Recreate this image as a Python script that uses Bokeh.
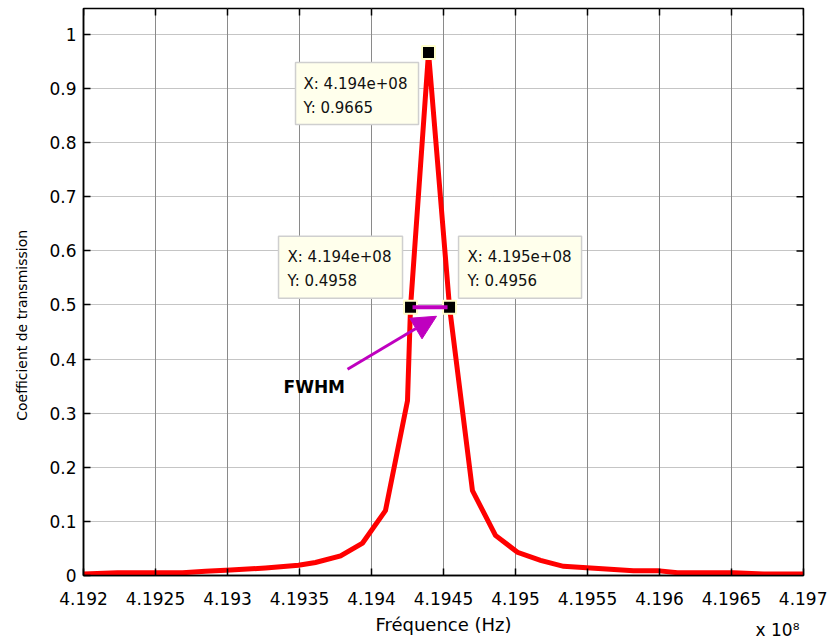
from bokeh.plotting import figure
from bokeh.models import Range1d, LinearAxis, FixedTicker, Label, Arrow, NormalHead
from bokeh.embed import file_html
from bokeh.resources import INLINE
from bokeh.core.properties import value

# ---------------- data (frequency in units of 1e8 Hz) ----------------
freq = [4.19200, 4.192236, 4.192688, 4.192847, 4.193021, 4.193264, 4.193493, 4.193611,
        4.193785, 4.193938, 4.194097, 4.194250, 4.194271, 4.194396, 4.194542, 4.194701,
        4.194861, 4.195014, 4.195174, 4.195333, 4.195819, 4.195986, 4.196125, 4.196514,
        4.196722, 4.197000]
trans = [0.003, 0.005, 0.005, 0.008, 0.010, 0.014, 0.019, 0.024,
         0.036, 0.060, 0.120, 0.323, 0.4958, 0.9665, 0.4956, 0.157,
         0.074, 0.043, 0.028, 0.017, 0.009, 0.009, 0.005, 0.005,
         0.003, 0.003]

tip_index = [12, 13, 14]          # data tips: left half point, peak, right half point
xtick_values = [4.192, 4.1925, 4.193, 4.1935, 4.194, 4.1945, 4.195, 4.1955, 4.196, 4.1965, 4.197]
xtick_labels = ["4.192", "4.1925", "4.193", "4.1935", "4.194", "4.1945", "4.195", "4.1955", "4.196", "4.1965", "4.197"]
ytick_values = [0, 0.1, 0.2, 0.3, 0.4, 0.5, 0.6, 0.7, 0.8, 0.9, 1]
ytick_labels = ["0", "0.1", "0.2", "0.3", "0.4", "0.5", "0.6", "0.7", "0.8", "0.9", "1"]
exponent_label = "x 10\u2078"

X0, X1 = 4.192, 4.197
Y0, Y1 = 0.0, 1.048
FW, FH = 720, 567
dxpp = (X1 - X0) / FW     # data units per pixel
dypp = (Y1 - Y0) / FH

FONT = "DejaVu Sans"
MAG = "#bf00bf"
NB = "\u00a0"

p = figure(width=827, height=642, x_range=Range1d(X0, X1), y_range=Range1d(Y0, Y1),
           output_backend="svg", toolbar_location=None,
           min_border_left=83, min_border_right=24, min_border_top=8, min_border_bottom=67)
p.background_fill_color = "white"
p.border_fill_color = "white"
p.outline_line_color = "black"
p.outline_line_width = 1.5

xt = FixedTicker(ticks=xtick_values)
yt = FixedTicker(ticks=ytick_values)

for ax in (p.xaxis[0], p.yaxis[0]):
    ax.axis_line_color = "black"
    ax.axis_line_width = 1.5
    ax.major_tick_in = 7
    ax.major_tick_out = 0
    ax.major_tick_line_color = "black"
    ax.major_tick_line_width = 1.5
    ax.minor_tick_line_color = None
    ax.major_label_text_font = FONT
    ax.major_label_text_font_size = "17px"
    ax.major_label_text_color = "black"
    ax.axis_label_text_font = FONT
    ax.axis_label_text_font_style = "normal"
    ax.axis_label_text_color = "black"

p.xaxis[0].ticker = xt
p.xaxis[0].major_label_overrides = dict(zip(xtick_values, xtick_labels))
p.xaxis[0].major_label_standoff = 16
p.xaxis[0].axis_label = "Fréquence (Hz)"
p.xaxis[0].axis_label_text_font_size = "18px"
p.xaxis[0].axis_label_standoff = 6

p.yaxis[0].ticker = yt
p.yaxis[0].major_label_overrides = dict(zip(ytick_values, ytick_labels))
p.yaxis[0].major_label_standoff = 7
p.yaxis[0].axis_label = "Coefficient de transmission" + NB * 15
p.yaxis[0].axis_label_text_font_size = "14px"
p.yaxis[0].axis_label_standoff = 16

# exponent "x 10^8": a single tick label on a bare axis below the main x axis
x_exp = X1 - 26 * dxpp
exp_axis = LinearAxis(ticker=FixedTicker(ticks=[x_exp]), major_tick_in=0, major_tick_out=0,
                      major_tick_line_color=None, minor_tick_line_color=None, axis_line_color=None,
                      major_label_overrides={x_exp: exponent_label},
                      major_label_text_font=FONT, major_label_text_font_size="17px",
                      major_label_text_color="black", major_label_standoff=-18)
p.add_layout(exp_axis, "below")

p.xgrid.grid_line_color = "#8a8a8a"
p.xgrid.grid_line_width = 1
p.ygrid.grid_line_color = "#8a8a8a"
p.ygrid.grid_line_dash = "1 1"
p.ygrid.grid_line_width = 1

# mirrored inward tick marks on top and right edges
p.segment(x0=xtick_values, y0=[Y1] * len(xtick_values), x1=xtick_values,
          y1=[Y1 - 7 * dypp] * len(xtick_values), line_color="black", line_width=1.5)
p.segment(x0=[X1] * len(ytick_values), y0=ytick_values, x1=[X1 - 7 * dxpp] * len(ytick_values),
          y1=ytick_values, line_color="black", line_width=1.5)

# main curve
p.line(freq, trans, line_color="#ff0000", line_width=5, line_join="miter")

# data tips
tx = [freq[i] for i in tip_index]
ty = [trans[i] for i in tip_index]
p.scatter(tx, ty, marker="square", size=13, fill_color="black", line_color="#ffffcc", line_width=2)

# FWHM segment between half points
p.segment(x0=[tx[0] + 2 * dxpp], y0=[ty[0]], x1=[tx[2] - 2 * dxpp], y1=[ty[0]],
          line_color=MAG, line_width=4)

# tip boxes: (left, right, top, bottom) pixel offsets from marker (y down positive), text x offset, line offsets
box_offsets = [(-132, -8, -71, -9, -123, -50, -26),
               (-133, -10, 10, 72, -125, 31, 55),
               (9, 132, -71, -9, 18, -50, -26)]
qs = dict(left=[], right=[], top=[], bottom=[])
txt_x, txt_y, txt_s = [], [], []
for (x, y), (l, r, t, b, tox, l1, l2) in zip(zip(tx, ty), box_offsets):
    qs["left"].append(x + l * dxpp)
    qs["right"].append(x + r * dxpp)
    qs["top"].append(y - t * dypp)
    qs["bottom"].append(y - b * dypp)
    txt_x += [x + tox * dxpp, x + tox * dxpp]
    txt_y += [y - l1 * dypp, y - l2 * dypp]
    txt_s += ["X: %.3e" % (x * 1e8), "Y: %.4g" % y]
p.quad(**qs, fill_color="#ffffec", line_color="#cfcfcf", line_width=1.5)
p.text(txt_x, txt_y, text=txt_s, text_font=value(FONT), text_font_size="15px",
       text_baseline="middle", text_align="left", text_color="#111111")

# FWHM arrow and label
ax0, ay0 = tx[0], ty[0]
arrow = Arrow(end=NormalHead(size=24, fill_color=MAG, line_color=MAG, line_width=1),
              x_start=ax0 - 63 * dxpp, y_start=ay0 - 62 * dypp,
              x_end=ax0 + 26 * dxpp, y_end=ay0 - 9 * dypp,
              line_color=MAG, line_width=3)
p.add_layout(arrow)
p.add_layout(Label(x=ax0 - 127 * dxpp, y=ay0 - 80 * dypp, text="FWHM",
                   text_font=FONT, text_font_size="17px", text_font_style="bold",
                   text_baseline="middle", text_align="left", text_color="black"))

open("out.html", "w").write(file_html(p, INLINE))
